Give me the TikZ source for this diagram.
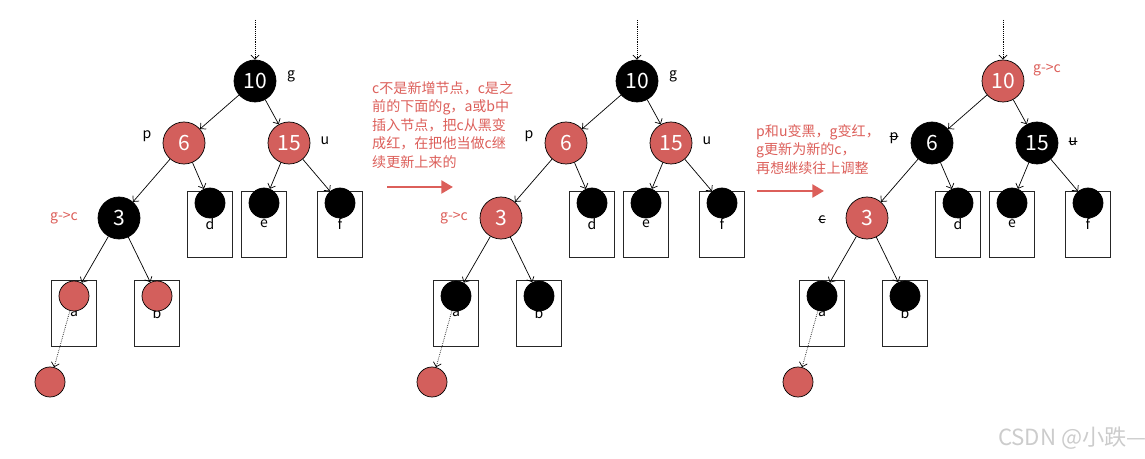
\documentclass[tikz,border=0pt]{standalone}
\usepackage{fontspec}
\setmainfont{Noto Sans CJK SC}
\usetikzlibrary{arrows.meta,positioning}
\definecolor{nodered}{HTML}{D35F5C}
\definecolor{notered}{HTML}{DC5F5A}
\definecolor{markgray}{HTML}{CCCCCC}

\tikzset{
  rbnode/.style={circle, draw=black, line width=0.6pt, minimum size=1.26cm, inner sep=0pt,
    text=white, font=\fontsize{18}{18}\selectfont},
  nilnode/.style={circle, draw=black, line width=0.6pt, fill=black, minimum size=0.9cm, inner sep=0pt},
  subbox/.style={draw=black!85, line width=0.6pt, minimum width=1.35cm, minimum height=1.98cm,
    inner sep=0pt, font=\fontsize{12}{12}\selectfont},
  lbl/.style={font=\fontsize{12}{12}\selectfont, inner sep=0pt},
  redlbl/.style={lbl, text=notered},
  struck/.style={lbl, text height=1.5ex, text depth=0pt, path picture={
    \draw[thin] ([xshift=-1pt]path picture bounding box.west) -- ([xshift=1pt]path picture bounding box.east);}},
  link/.style={-{Straight Barb[length=3.5pt,width=7pt]}, line width=0.6pt},
  uplink/.style={link, densely dotted},
  movearrow/.style={-{Triangle[length=10pt,width=11pt]}, line width=2.4pt, notered},
  note/.style={text=notered, align=left, anchor=north west, inner sep=0pt,
    font=\fontsize{12}{15.8}\selectfont}
}

% one tree: #1 prefix, #2 x offset, #3 g, #4 p, #5 u, #6 c, #7 a and b
\newcommand{\rbtree}[7]{%
  \begin{scope}[shift={(#2,0)}]
    \coordinate (#1top) at (255,20);
    \node[rbnode, fill=#3] (#1g) at (255,81) {10};
    \node[rbnode, fill=#4] (#1p) at (184,143) {6};
    \node[rbnode, fill=#5] (#1u) at (289,143) {15};
    \node[rbnode, fill=#6] (#1c) at (119,218) {3};
    \foreach \n/\x in {d/210, e/264, f/340} {
      \node[subbox] (#1\n box) at (\x,224) {\n};
      \node[nilnode] (#1\n) at (\x,203) {};
    }
    \foreach \n/\x in {a/74, b/157} {
      \node[subbox] (#1\n box) at (\x,313) {\n};
      \node[nilnode, fill=#7] (#1\n) at (\x,296) {};
    }
    \node[nilnode, fill=nodered] (#1new) at (50,382) {};
    \draw[uplink] (#1top) -- (#1g);
    \draw[link] (#1g) -- (#1p);
    \draw[link] (#1g) -- (#1u);
    \draw[link] (#1p) -- (#1c);
    \draw[link] (#1p) -- (#1d);
    \draw[link] (#1u) -- (#1e);
    \draw[link] (#1u) -- (#1f);
    \draw[link] (#1c) -- (#1a);
    \draw[link] (#1c) -- (#1b);
    \draw[uplink] (#1a) -- (#1new);
  \end{scope}}

\begin{document}
\begin{tikzpicture}[x=0.03cm, y=-0.03cm]
  \useasboundingbox (0,0) rectangle (1145,459);

  % before
  \rbtree{t1}{0}{black}{nodered}{nodered}{black}{nodered}
  \node[lbl] (t1lg) at (291,76) {g};
  \node[lbl] (t1lp) at (147,136) {p};
  \node[lbl] (t1lu) at (325,141) {u};
  \node[redlbl] (t1lc) at (64,218) {g->c};

  % after recolouring c
  \rbtree{t2}{382}{black}{nodered}{nodered}{nodered}{black}
  \node[lbl] (t2lg) at (673,76) {g};
  \node[lbl] (t2lp) at (529,136) {p};
  \node[lbl] (t2lu) at (707,141) {u};
  \node[redlbl] (t2lc) at (454,218) {g->c};

  % after recolouring p, u, g
  \rbtree{t3}{748}{nodered}{black}{black}{nodered}{black}
  \node[redlbl] (t3lg) at (1047,70) {g->c};
  \node[struck] (t3lp) at (894,136) {p};
  \node[struck] (t3lu) at (1073,141) {u};
  \node[struck] (t3lc) at (822,219) {c};

  % notes between the trees
  \node[note] (note1) at (372,81) {c不是新增节点，c是之\\前的下面的g，a或b中\\插入节点，把c从黑变\\成红，在把他当做c继\\续更新上来的};
  \coordinate (m1s) at (387,187);
  \coordinate (m1e) at (453,187);
  \draw[movearrow] (m1s) -- (m1e);

  \node[note] (note2) at (756,124) {p和u变黑，g变红，\\g更新为新的c，\\再想继续往上调整};
  \coordinate (m2s) at (757,191);
  \coordinate (m2e) at (824,191);
  \draw[movearrow] (m2s) -- (m2e);

  \node[text=markgray, anchor=east, inner sep=0pt, font=\fontsize{19}{19}\selectfont] (mark) at (1147,438) {CSDN @小跌—};
\end{tikzpicture}
\end{document}
